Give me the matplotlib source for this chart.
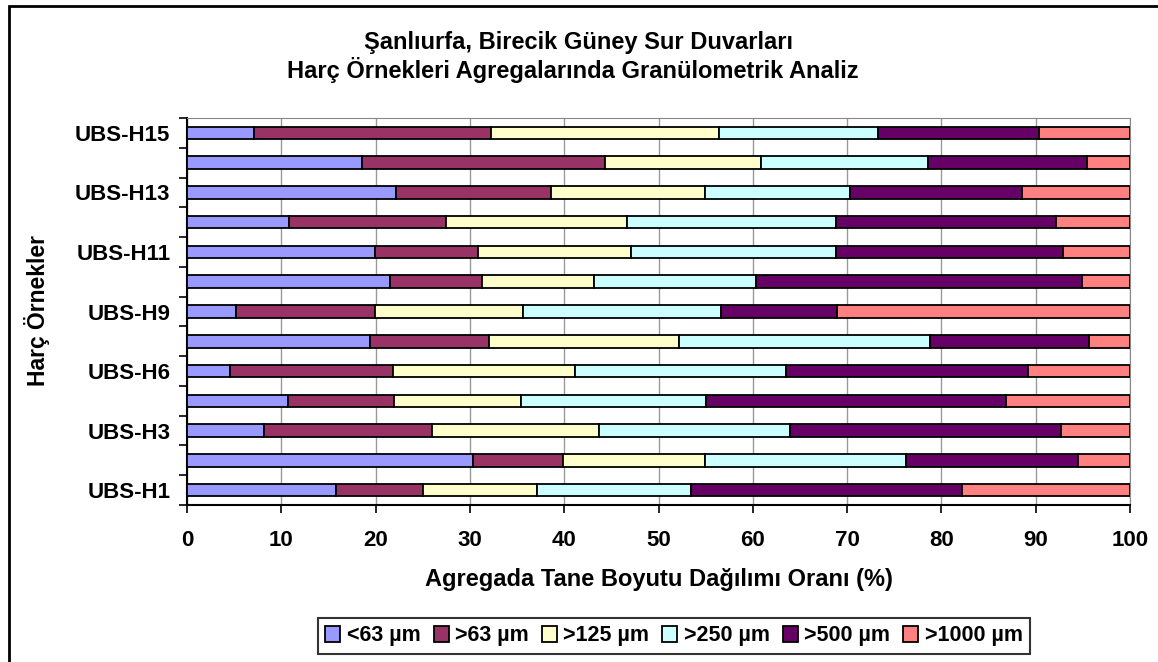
import numpy as np
import matplotlib
matplotlib.use("Agg")
import matplotlib.pyplot as plt
from matplotlib.patches import Rectangle

plt.rcParams["font.family"] = ["Liberation Sans", "DejaVu Sans"]
plt.rcParams["font.weight"] = "bold"

samples = ["UBS-H1", "UBS-H2", "UBS-H3", "UBS-H4", "UBS-H6", "UBS-H7", "UBS-H9",
           "UBS-H10", "UBS-H11", "UBS-H12", "UBS-H13", "UBS-H14", "UBS-H15"]
classes = ["<63 µm", ">63 µm", ">125 µm", ">250 µm", ">500 µm", ">1000 µm"]
colors = ["#9999FF", "#993366", "#FFFFCC", "#CCFFFF", "#660066", "#FF8080"]

lt63 = [15.8, 30.3, 8.2, 10.7, 4.6, 19.4, 5.2, 21.5, 19.9, 10.8, 22.2, 18.6, 7.1]
gt63 = [9.2, 9.6, 17.8, 11.3, 17.2, 12.6, 14.7, 9.8, 11.0, 16.7, 16.4, 25.7, 25.1]
gt125 = [12.1, 15.0, 17.7, 13.4, 19.3, 20.2, 15.7, 11.9, 16.2, 19.2, 16.3, 16.6, 24.2]
gt250 = [16.3, 21.3, 20.2, 19.6, 22.4, 26.6, 21.0, 17.1, 21.7, 22.1, 15.4, 17.7, 16.9]
gt500 = [28.8, 18.3, 28.8, 31.8, 25.7, 16.9, 12.3, 34.6, 24.1, 23.3, 18.2, 16.8, 17.1]
gt1000 = [17.8, 5.5, 7.3, 13.2, 10.8, 4.3, 31.1, 5.1, 7.1, 7.9, 11.5, 4.6, 9.6]

series = [lt63, gt63, gt125, gt250, gt500, gt1000]

fig = plt.figure(figsize=(11.58, 6.62), dpi=100)
ax = fig.add_axes([187 / 1158, 1 - 505 / 662, (1130 - 187) / 1158, (505 - 118) / 662])

y = np.arange(len(samples))
left = np.zeros(len(samples))
for vals, lab, col in zip(series, classes, colors):
    ax.barh(y, vals, left=left, height=0.42, color=col, edgecolor="black",
            linewidth=1.3, label=lab, zorder=3)
    left += np.array(vals)

ax.set_xlim(0, 100)
ax.set_ylim(-0.5, len(samples) - 0.5)
ax.set_xticks(np.arange(0, 101, 10))
ax.set_xticklabels([str(v) for v in range(0, 101, 10)], fontsize=16, fontweight="bold")
ax.set_yticks(y[::2])
ax.set_yticklabels(samples[::2], fontsize=16, fontweight="bold")
ax.set_yticks(np.arange(-0.5, len(samples), 1), minor=True)
ax.tick_params(axis="y", which="major", length=0, pad=12)
ax.tick_params(axis="y", which="minor", length=6, width=1.2, direction="out")
ax.tick_params(axis="x", length=6, width=1.2, direction="out", pad=12)
ax.grid(axis="x", color="#999999", linewidth=1, zorder=0)

for side in ["top", "right"]:
    ax.spines[side].set_color("#888888")
for side in ["left", "bottom"]:
    ax.spines[side].set_color("black")
    ax.spines[side].set_linewidth(1.5)

ax.set_xlabel("Agregada Tane Boyutu Dağılımı Oranı (%)", fontsize=17,
              fontweight="bold", labelpad=12)
fig.text(37 / 1158, 1 - 310 / 662, "Harç Örnekler", rotation=90, fontsize=16.5,
         fontweight="bold", ha="center", va="center")

fig.text(578 / 1158, 1 - 42 / 662, "Şanlıurfa, Birecik Güney Sur Duvarları",
         fontsize=17, fontweight="bold", ha="center", va="center")
fig.text(573 / 1158, 1 - 70 / 662, "Harç Örnekleri Agregalarında Granülometrik Analiz",
         fontsize=17, fontweight="bold", ha="center", va="center")

leg = fig.legend(loc="center", bbox_to_anchor=(674 / 1158, 1 - 636 / 662), ncol=6,
                 fontsize=15.5, frameon=True, fancybox=False, edgecolor="black",
                 handlelength=0.7, handleheight=0.7, handletextpad=0.3,
                 columnspacing=0.6, borderpad=0.35)
leg.get_frame().set_linewidth(1.5)

fig.patches.append(Rectangle((9 / 1158, -0.05), 1.2, 1 - 6 / 662 + 0.05,
                             transform=fig.transFigure, fill=False,
                             edgecolor="black", linewidth=2))

fig.savefig("out.png", dpi=100)
